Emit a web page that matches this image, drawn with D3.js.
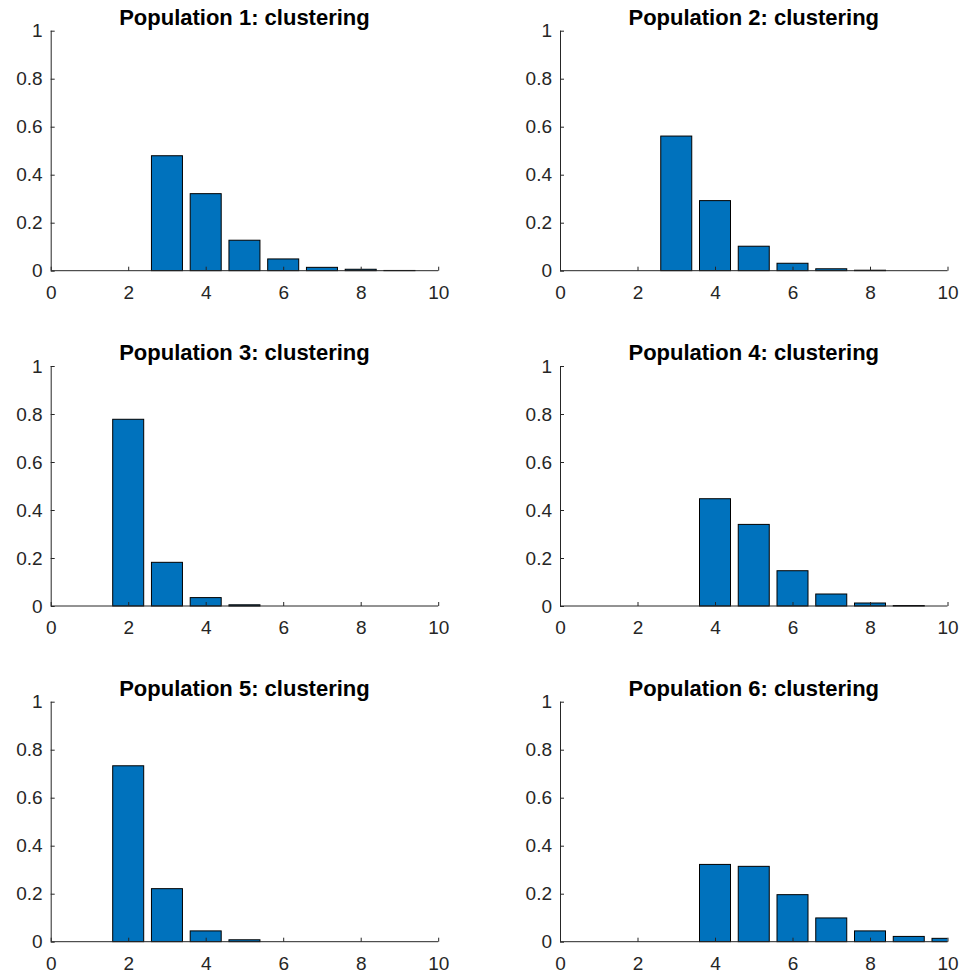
<!DOCTYPE html>
<html>
<head>
<meta charset="utf-8">
<script src="https://cdn.jsdelivr.net/npm/d3@7"></script>
<style>
  html, body { margin: 0; padding: 0; background: #fff; }
  svg { display: block; }
</style>
</head>
<body>
<svg id="chart" width="963" height="974"></svg>
<script>
// ---- data ----
const categories = [1, 2, 3, 4, 5, 6, 7, 8, 9, 10];
const titles = [
  "Population 1: clustering", "Population 2: clustering",
  "Population 3: clustering", "Population 4: clustering",
  "Population 5: clustering", "Population 6: clustering"
];
const pop1 = [0, 0, 0.479, 0.321, 0.127, 0.049, 0.014, 0.006, 0.001, 0];
const pop2 = [0, 0, 0.561, 0.292, 0.102, 0.031, 0.008, 0.002, 0, 0];
const pop3 = [0, 0.778, 0.182, 0.035, 0.005, 0, 0, 0, 0, 0];
const pop4 = [0, 0, 0, 0.447, 0.340, 0.147, 0.050, 0.0125, 0.002, 0];
const pop5 = [0, 0.733, 0.221, 0.045, 0.008, 0, 0, 0, 0, 0];
const pop6 = [0, 0, 0, 0.322, 0.314, 0.196, 0.099, 0.045, 0.022, 0.014];
const xTicks = [0, 2, 4, 6, 8, 10];
const yTicks = [0, 0.2, 0.4, 0.6, 0.8, 1];
const series = [pop1, pop2, pop3, pop4, pop5, pop6];

// ---- layout ----
const svg = d3.select("#chart");
const colX = [50.7, 560];
const rowY = [30.7, 366, 701.7];
const pw = 387.5, ph = 240;
const barWidth = 0.8;
const axisColor = "#262626";
const fontFam = "'Liberation Sans', Arial, Helvetica, sans-serif";

series.forEach((vals, i) => {
  const col = i % 2, row = Math.floor(i / 2);
  const g = svg.append("g").attr("transform", `translate(${colX[col]},${rowY[row]})`);
  const x = d3.scaleLinear().domain([0, 10]).range([0, pw]);
  const y = d3.scaleLinear().domain([0, 1]).range([ph, 0]);

  const clipId = "clip" + i;
  g.append("clipPath").attr("id", clipId)
    .append("rect").attr("x", 0).attr("y", -1).attr("width", pw).attr("height", ph + 2);

  g.append("g").attr("clip-path", `url(#${clipId})`)
    .selectAll("rect").data(vals).join("rect")
    .attr("x", (d, j) => x(categories[j] - barWidth / 2))
    .attr("width", x(barWidth) - x(0))
    .attr("y", d => y(d))
    .attr("height", d => y(0) - y(d))
    .attr("fill", "#0072BD")
    .attr("stroke", "#000")
    .attr("stroke-width", 1);

  const xAxis = d3.axisBottom(x).tickValues(xTicks).tickSize(-4).tickPadding(15).tickFormat(d3.format("d"));
  const yAxis = d3.axisLeft(y).tickValues(yTicks).tickSize(-4).tickPadding(8)
    .tickFormat(d => d === 0 || d === 1 ? String(d) : d.toFixed(1));

  const xa = g.append("g").attr("transform", `translate(0,${ph})`).call(xAxis);
  const ya = g.append("g").call(yAxis);
  [xa, ya].forEach(a => {
    a.select(".domain").attr("stroke", axisColor).attr("stroke-width", 1);
    a.selectAll(".tick line").attr("stroke", axisColor);
    a.selectAll(".tick text").attr("fill", axisColor)
      .style("font-family", fontFam).style("font-size", "19px");
  });
  xa.select(".domain").attr("d", `M0.5,0H${pw}`);
  ya.select(".domain").attr("d", `M0.5,0V${ph}`);

  g.append("text")
    .attr("x", pw / 2).attr("y", -6)
    .attr("text-anchor", "middle")
    .style("font-family", fontFam)
    .style("font-weight", "bold").style("font-size", "22px")
    .attr("fill", "#000")
    .text(titles[i]);
});
</script>
</body>
</html>
